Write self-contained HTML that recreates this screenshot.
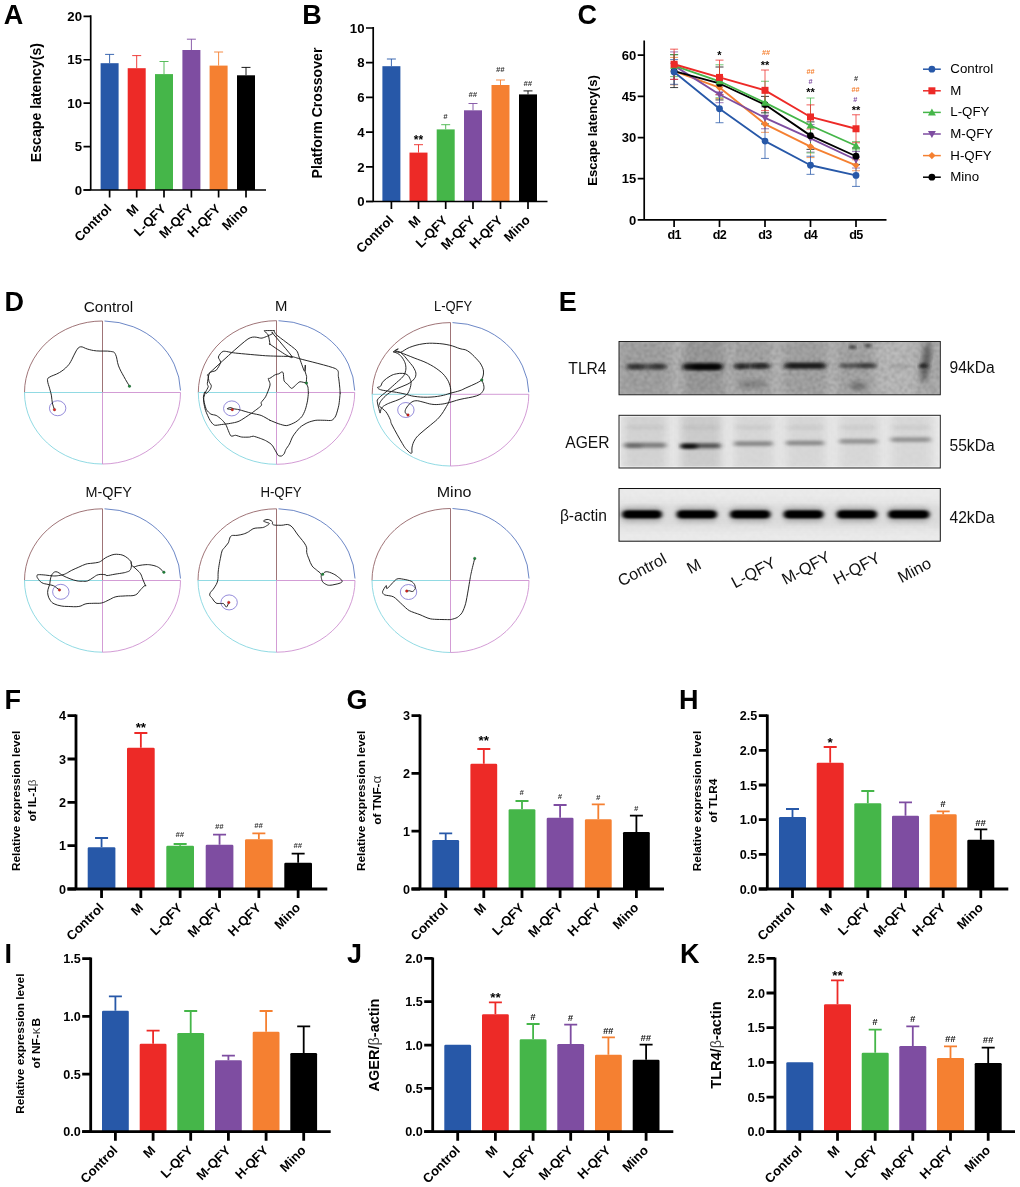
<!DOCTYPE html>
<html lang="en"><head><meta charset="utf-8"><title>Figure</title>
<style>
html,body{margin:0;padding:0;background:#fff;}
body{width:1020px;height:1187px;overflow:hidden;}
svg{display:block;font-family:"Liberation Sans",sans-serif;}
</style></head><body>
<svg width="1020" height="1187" viewBox="0 0 1020 1187">
<rect width="1020" height="1187" fill="#fff"/>
<text x="3.8" y="23.9" font-size="27" font-weight="bold">A</text>
<text x="302.3" y="23.9" font-size="27" font-weight="bold">B</text>
<text x="577.6" y="23.9" font-size="27" font-weight="bold">C</text>
<text x="4.5" y="310.7" font-size="27" font-weight="bold">D</text>
<text x="558.7" y="310.7" font-size="27" font-weight="bold">E</text>
<text x="4.6" y="708.9" font-size="27" font-weight="bold">F</text>
<text x="346.6" y="708.9" font-size="27" font-weight="bold">G</text>
<text x="679" y="708.9" font-size="27" font-weight="bold">H</text>
<text x="4.6" y="963" font-size="27" font-weight="bold">I</text>
<text x="347" y="963" font-size="27" font-weight="bold">J</text>
<text x="680" y="963" font-size="27" font-weight="bold">K</text>
<g>
<path d="M109.6 63.2V54.4M105.1 54.4H114.1" stroke="#2758A8" stroke-width="0.9" fill="none"/>
<rect x="100.6" y="63.2" width="18" height="126.8" fill="#2758A8"/>
<path d="M136.7 68.2V55.6M132.2 55.6H141.2" stroke="#ED2A27" stroke-width="0.9" fill="none"/>
<rect x="127.7" y="68.2" width="18" height="121.8" fill="#ED2A27"/>
<path d="M164 74.1V61.5M159.5 61.5H168.5" stroke="#45B649" stroke-width="0.9" fill="none"/>
<rect x="155" y="74.1" width="18" height="115.9" fill="#45B649"/>
<path d="M191.4 50V39.2M186.9 39.2H195.9" stroke="#7E4DA1" stroke-width="0.9" fill="none"/>
<rect x="182.4" y="50" width="18" height="140" fill="#7E4DA1"/>
<path d="M218.6 65.6V52M214.1 52H223.1" stroke="#F58031" stroke-width="0.9" fill="none"/>
<rect x="209.6" y="65.6" width="18" height="124.4" fill="#F58031"/>
<path d="M246 75.3V67.4M241.5 67.4H250.5" stroke="#000000" stroke-width="0.9" fill="none"/>
<rect x="237" y="75.3" width="18" height="114.7" fill="#000000"/>
<path d="M90.7 15.3V190M83.5 190H266" stroke="#000" stroke-width="1.7" fill="none" stroke-linecap="butt"/>
<path d="M83.5 190H90.7M83.5 146.57H90.7M83.5 103.15H90.7M83.5 59.73H90.7M83.5 16.3H90.7M109.6 190V197.5M136.7 190V197.5M164 190V197.5M191.4 190V197.5M218.6 190V197.5M246 190V197.5" stroke="#000" stroke-width="1.7" fill="none"/>
<text x="82" y="194.75" font-size="13.2" font-weight="bold" text-anchor="end">0</text>
<text x="82" y="151.33" font-size="13.2" font-weight="bold" text-anchor="end">5</text>
<text x="82" y="107.9" font-size="13.2" font-weight="bold" text-anchor="end">10</text>
<text x="82" y="64.48" font-size="13.2" font-weight="bold" text-anchor="end">15</text>
<text x="82" y="21.05" font-size="13.2" font-weight="bold" text-anchor="end">20</text>
<text transform="translate(112.4 209.5) rotate(-45)" font-size="13" font-weight="bold" text-anchor="end">Control</text>
<text transform="translate(139.5 209.5) rotate(-45)" font-size="13" font-weight="bold" text-anchor="end">M</text>
<text transform="translate(166.8 209.5) rotate(-45)" font-size="13" font-weight="bold" text-anchor="end">L-QFY</text>
<text transform="translate(194.2 209.5) rotate(-45)" font-size="13" font-weight="bold" text-anchor="end">M-QFY</text>
<text transform="translate(221.4 209.5) rotate(-45)" font-size="13" font-weight="bold" text-anchor="end">H-QFY</text>
<text transform="translate(248.8 209.5) rotate(-45)" font-size="13" font-weight="bold" text-anchor="end">Mino</text>
</g>
<text transform="translate(40.5 102.6) rotate(-90)" font-size="14.1" font-weight="bold" text-anchor="middle">Escape latency(s)</text>
<g>
<path d="M391.4 66.2V59M386.9 59H395.9" stroke="#2758A8" stroke-width="0.9" fill="none"/>
<rect x="382.4" y="66.2" width="18" height="135.3" fill="#2758A8"/>
<path d="M418.5 152.6V144.7M414 144.7H423" stroke="#ED2A27" stroke-width="0.9" fill="none"/>
<rect x="409.5" y="152.6" width="18" height="48.9" fill="#ED2A27"/>
<path d="M445.7 129.4V124.7M441.2 124.7H450.2" stroke="#45B649" stroke-width="0.9" fill="none"/>
<rect x="436.7" y="129.4" width="18" height="72.1" fill="#45B649"/>
<path d="M473 110.3V103.5M468.5 103.5H477.5" stroke="#7E4DA1" stroke-width="0.9" fill="none"/>
<rect x="464" y="110.3" width="18" height="91.2" fill="#7E4DA1"/>
<path d="M500.5 85V80M496 80H505" stroke="#F58031" stroke-width="0.9" fill="none"/>
<rect x="491.5" y="85" width="18" height="116.5" fill="#F58031"/>
<path d="M528 94.4V90.9M523.5 90.9H532.5" stroke="#000000" stroke-width="0.9" fill="none"/>
<rect x="519" y="94.4" width="18" height="107.1" fill="#000000"/>
<path d="M373.2 27V201.5M366 201.5H547.5" stroke="#000" stroke-width="1.7" fill="none" stroke-linecap="butt"/>
<path d="M366 201.5H373.2M366 166.8H373.2M366 132.1H373.2M366 97.4H373.2M366 62.7H373.2M366 28H373.2M391.4 201.5V209M418.5 201.5V209M445.7 201.5V209M473 201.5V209M500.5 201.5V209M528 201.5V209" stroke="#000" stroke-width="1.7" fill="none"/>
<text x="364.5" y="206.25" font-size="13.2" font-weight="bold" text-anchor="end">0</text>
<text x="364.5" y="171.55" font-size="13.2" font-weight="bold" text-anchor="end">2</text>
<text x="364.5" y="136.85" font-size="13.2" font-weight="bold" text-anchor="end">4</text>
<text x="364.5" y="102.15" font-size="13.2" font-weight="bold" text-anchor="end">6</text>
<text x="364.5" y="67.45" font-size="13.2" font-weight="bold" text-anchor="end">8</text>
<text x="364.5" y="32.75" font-size="13.2" font-weight="bold" text-anchor="end">10</text>
<text transform="translate(394.2 221) rotate(-45)" font-size="13" font-weight="bold" text-anchor="end">Control</text>
<text transform="translate(421.3 221) rotate(-45)" font-size="13" font-weight="bold" text-anchor="end">M</text>
<text transform="translate(448.5 221) rotate(-45)" font-size="13" font-weight="bold" text-anchor="end">L-QFY</text>
<text transform="translate(475.8 221) rotate(-45)" font-size="13" font-weight="bold" text-anchor="end">M-QFY</text>
<text transform="translate(503.3 221) rotate(-45)" font-size="13" font-weight="bold" text-anchor="end">H-QFY</text>
<text transform="translate(530.8 221) rotate(-45)" font-size="13" font-weight="bold" text-anchor="end">Mino</text>
<text x="418.5" y="143.6" font-size="12" font-weight="bold" text-anchor="middle">**</text>
<text x="445.4" y="119.38" font-size="7.6" font-weight="bold" font-style="italic" text-anchor="middle" fill="#333">#</text>
<text x="472.7" y="97.28" font-size="7.6" font-weight="bold" font-style="italic" text-anchor="middle" fill="#333">##</text>
<text x="500.2" y="72.28" font-size="7.6" font-weight="bold" font-style="italic" text-anchor="middle" fill="#333">##</text>
<text x="527.7" y="86.08" font-size="7.6" font-weight="bold" font-style="italic" text-anchor="middle" fill="#333">##</text>
</g>
<text transform="translate(322 113) rotate(-90)" font-size="14.1" font-weight="bold" text-anchor="middle">Platform Crossover</text>
<g>
<path d="M101.55 847.3V838M95.05 838H108.05" stroke="#2758A8" stroke-width="1.8" fill="none"/>
<path d="M87.7 889V848.6Q87.7 847.3 89 847.3H114.1Q115.4 847.3 115.4 848.6V889Z" fill="#2758A8"/>
<path d="M140.85 747.7V733M134.35 733H147.35" stroke="#ED2A27" stroke-width="1.8" fill="none"/>
<path d="M127 889V749Q127 747.7 128.3 747.7H153.4Q154.7 747.7 154.7 749V889Z" fill="#ED2A27"/>
<path d="M180.15 845.7V844M173.65 844H186.65" stroke="#45B649" stroke-width="1.8" fill="none"/>
<path d="M166.3 889V847Q166.3 845.7 167.6 845.7H192.7Q194 845.7 194 847V889Z" fill="#45B649"/>
<path d="M219.55 844.7V834.7M213.05 834.7H226.05" stroke="#7E4DA1" stroke-width="1.8" fill="none"/>
<path d="M205.7 889V846Q205.7 844.7 207 844.7H232.1Q233.4 844.7 233.4 846V889Z" fill="#7E4DA1"/>
<path d="M258.85 839.3V833.3M252.35 833.3H265.35" stroke="#F58031" stroke-width="1.8" fill="none"/>
<path d="M245 889V840.6Q245 839.3 246.3 839.3H271.4Q272.7 839.3 272.7 840.6V889Z" fill="#F58031"/>
<path d="M298.15 862.7V853.7M291.65 853.7H304.65" stroke="#000000" stroke-width="1.8" fill="none"/>
<path d="M284.3 889V864Q284.3 862.7 285.6 862.7H310.7Q312 862.7 312 864V889Z" fill="#000000"/>
<path d="M76 714.5V889M67.5 889H327.3" stroke="#000" stroke-width="2.8" fill="none" stroke-linecap="butt"/>
<path d="M67.5 889H76M67.5 845.67H76M67.5 802.34H76M67.5 759.01H76M67.5 715.68H76M101.55 889V898M140.85 889V898M180.15 889V898M219.55 889V898M258.85 889V898M298.15 889V898" stroke="#000" stroke-width="2.8" fill="none"/>
<text x="66" y="893.54" font-size="12.6" font-weight="bold" text-anchor="end">0</text>
<text x="66" y="850.21" font-size="12.6" font-weight="bold" text-anchor="end">1</text>
<text x="66" y="806.88" font-size="12.6" font-weight="bold" text-anchor="end">2</text>
<text x="66" y="763.55" font-size="12.6" font-weight="bold" text-anchor="end">3</text>
<text x="66" y="720.22" font-size="12.6" font-weight="bold" text-anchor="end">4</text>
<text transform="translate(104.55 908.5) rotate(-45)" font-size="13" font-weight="bold" text-anchor="end">Control</text>
<text transform="translate(143.85 908.5) rotate(-45)" font-size="13" font-weight="bold" text-anchor="end">M</text>
<text transform="translate(183.15 908.5) rotate(-45)" font-size="13" font-weight="bold" text-anchor="end">L-QFY</text>
<text transform="translate(222.55 908.5) rotate(-45)" font-size="13" font-weight="bold" text-anchor="end">M-QFY</text>
<text transform="translate(261.85 908.5) rotate(-45)" font-size="13" font-weight="bold" text-anchor="end">H-QFY</text>
<text transform="translate(301.15 908.5) rotate(-45)" font-size="13" font-weight="bold" text-anchor="end">Mino</text>
<text x="140.85" y="732.3" font-size="13.4" font-weight="bold" text-anchor="middle">**</text>
<text x="179.85" y="836.88" font-size="7.6" font-weight="bold" font-style="italic" text-anchor="middle" fill="#333">##</text>
<text x="219.25" y="829.28" font-size="7.6" font-weight="bold" font-style="italic" text-anchor="middle" fill="#333">##</text>
<text x="258.55" y="827.88" font-size="7.6" font-weight="bold" font-style="italic" text-anchor="middle" fill="#333">##</text>
<text x="297.85" y="847.88" font-size="7.6" font-weight="bold" font-style="italic" text-anchor="middle" fill="#333">##</text>
</g>
<text transform="translate(19.6 800.8) rotate(-90)" font-size="11.8" font-weight="bold" text-anchor="middle">Relative expression level</text>
<text transform="translate(36 800.5) rotate(-90)" font-size="11.8" font-weight="bold" text-anchor="middle">of IL-1<tspan font-weight="normal" fill="#444">β</tspan></text>
<g>
<path d="M445.7 840V833.3M439.2 833.3H452.2" stroke="#2758A8" stroke-width="1.8" fill="none"/>
<path d="M432.3 889V841.3Q432.3 840 433.6 840H457.8Q459.1 840 459.1 841.3V889Z" fill="#2758A8"/>
<path d="M483.8 763.7V749M477.3 749H490.3" stroke="#ED2A27" stroke-width="1.8" fill="none"/>
<path d="M470.4 889V765Q470.4 763.7 471.7 763.7H495.9Q497.2 763.7 497.2 765V889Z" fill="#ED2A27"/>
<path d="M522 809.3V801M515.5 801H528.5" stroke="#45B649" stroke-width="1.8" fill="none"/>
<path d="M508.6 889V810.6Q508.6 809.3 509.9 809.3H534.1Q535.4 809.3 535.4 810.6V889Z" fill="#45B649"/>
<path d="M560.1 817.7V805M553.6 805H566.6" stroke="#7E4DA1" stroke-width="1.8" fill="none"/>
<path d="M546.7 889V819Q546.7 817.7 548 817.7H572.2Q573.5 817.7 573.5 819V889Z" fill="#7E4DA1"/>
<path d="M598.3 819.3V804.3M591.8 804.3H604.8" stroke="#F58031" stroke-width="1.8" fill="none"/>
<path d="M584.9 889V820.6Q584.9 819.3 586.2 819.3H610.4Q611.7 819.3 611.7 820.6V889Z" fill="#F58031"/>
<path d="M636.4 832V815.7M629.9 815.7H642.9" stroke="#000000" stroke-width="1.8" fill="none"/>
<path d="M623 889V833.3Q623 832 624.3 832H648.5Q649.8 832 649.8 833.3V889Z" fill="#000000"/>
<path d="M420 714.5V889M411.5 889H664" stroke="#000" stroke-width="2.8" fill="none" stroke-linecap="butt"/>
<path d="M411.5 889H420M411.5 831.22H420M411.5 773.44H420M411.5 715.66H420M445.7 889V898M483.8 889V898M522 889V898M560.1 889V898M598.3 889V898M636.4 889V898" stroke="#000" stroke-width="2.8" fill="none"/>
<text x="410" y="893.54" font-size="12.6" font-weight="bold" text-anchor="end">0</text>
<text x="410" y="835.76" font-size="12.6" font-weight="bold" text-anchor="end">1</text>
<text x="410" y="777.98" font-size="12.6" font-weight="bold" text-anchor="end">2</text>
<text x="410" y="720.2" font-size="12.6" font-weight="bold" text-anchor="end">3</text>
<text transform="translate(448.7 908.5) rotate(-45)" font-size="13" font-weight="bold" text-anchor="end">Control</text>
<text transform="translate(486.8 908.5) rotate(-45)" font-size="13" font-weight="bold" text-anchor="end">M</text>
<text transform="translate(525 908.5) rotate(-45)" font-size="13" font-weight="bold" text-anchor="end">L-QFY</text>
<text transform="translate(563.1 908.5) rotate(-45)" font-size="13" font-weight="bold" text-anchor="end">M-QFY</text>
<text transform="translate(601.3 908.5) rotate(-45)" font-size="13" font-weight="bold" text-anchor="end">H-QFY</text>
<text transform="translate(639.4 908.5) rotate(-45)" font-size="13" font-weight="bold" text-anchor="end">Mino</text>
<text x="483.8" y="745" font-size="13.4" font-weight="bold" text-anchor="middle">**</text>
<text x="521.7" y="795.28" font-size="7.6" font-weight="bold" font-style="italic" text-anchor="middle" fill="#333">#</text>
<text x="559.8" y="798.58" font-size="7.6" font-weight="bold" font-style="italic" text-anchor="middle" fill="#333">#</text>
<text x="598" y="799.58" font-size="7.6" font-weight="bold" font-style="italic" text-anchor="middle" fill="#333">#</text>
<text x="636.1" y="810.88" font-size="7.6" font-weight="bold" font-style="italic" text-anchor="middle" fill="#333">#</text>
</g>
<text transform="translate(364.6 800.8) rotate(-90)" font-size="11.8" font-weight="bold" text-anchor="middle">Relative expression level</text>
<text transform="translate(381.3 800.2) rotate(-90)" font-size="11.8" font-weight="bold" text-anchor="middle">of TNF-<tspan font-weight="normal" fill="#444" font-size="13.5">α</tspan></text>
<g>
<path d="M792.5 817V809M786 809H799" stroke="#2758A8" stroke-width="1.8" fill="none"/>
<path d="M779 889V818.3Q779 817 780.3 817H804.7Q806 817 806 818.3V889Z" fill="#2758A8"/>
<path d="M830.2 762.7V747M823.7 747H836.7" stroke="#ED2A27" stroke-width="1.8" fill="none"/>
<path d="M816.7 889V764Q816.7 762.7 818 762.7H842.4Q843.7 762.7 843.7 764V889Z" fill="#ED2A27"/>
<path d="M867.8 803.3V791M861.3 791H874.3" stroke="#45B649" stroke-width="1.8" fill="none"/>
<path d="M854.3 889V804.6Q854.3 803.3 855.6 803.3H880Q881.3 803.3 881.3 804.6V889Z" fill="#45B649"/>
<path d="M905.5 815.7V802.3M899 802.3H912" stroke="#7E4DA1" stroke-width="1.8" fill="none"/>
<path d="M892 889V817Q892 815.7 893.3 815.7H917.7Q919 815.7 919 817V889Z" fill="#7E4DA1"/>
<path d="M943.2 814.3V811.3M936.7 811.3H949.7" stroke="#F58031" stroke-width="1.8" fill="none"/>
<path d="M929.7 889V815.6Q929.7 814.3 931 814.3H955.4Q956.7 814.3 956.7 815.6V889Z" fill="#F58031"/>
<path d="M980.8 839.7V829.3M974.3 829.3H987.3" stroke="#000000" stroke-width="1.8" fill="none"/>
<path d="M967.3 889V841Q967.3 839.7 968.6 839.7H993Q994.3 839.7 994.3 841V889Z" fill="#000000"/>
<path d="M767.3 714.5V889M758.8 889H1008.3" stroke="#000" stroke-width="2.8" fill="none" stroke-linecap="butt"/>
<path d="M758.8 889H767.3M758.8 854.33H767.3M758.8 819.66H767.3M758.8 784.99H767.3M758.8 750.32H767.3M758.8 715.65H767.3M792.5 889V898M830.2 889V898M867.8 889V898M905.5 889V898M943.2 889V898M980.8 889V898" stroke="#000" stroke-width="2.8" fill="none"/>
<text x="757.3" y="893.54" font-size="12.6" font-weight="bold" text-anchor="end">0.0</text>
<text x="757.3" y="858.87" font-size="12.6" font-weight="bold" text-anchor="end">0.5</text>
<text x="757.3" y="824.2" font-size="12.6" font-weight="bold" text-anchor="end">1.0</text>
<text x="757.3" y="789.53" font-size="12.6" font-weight="bold" text-anchor="end">1.5</text>
<text x="757.3" y="754.86" font-size="12.6" font-weight="bold" text-anchor="end">2.0</text>
<text x="757.3" y="720.19" font-size="12.6" font-weight="bold" text-anchor="end">2.5</text>
<text transform="translate(795.5 908.5) rotate(-45)" font-size="13" font-weight="bold" text-anchor="end">Control</text>
<text transform="translate(833.2 908.5) rotate(-45)" font-size="13" font-weight="bold" text-anchor="end">M</text>
<text transform="translate(870.8 908.5) rotate(-45)" font-size="13" font-weight="bold" text-anchor="end">L-QFY</text>
<text transform="translate(908.5 908.5) rotate(-45)" font-size="13" font-weight="bold" text-anchor="end">M-QFY</text>
<text transform="translate(946.2 908.5) rotate(-45)" font-size="13" font-weight="bold" text-anchor="end">H-QFY</text>
<text transform="translate(983.8 908.5) rotate(-45)" font-size="13" font-weight="bold" text-anchor="end">Mino</text>
<text x="830.2" y="747.3" font-size="13.4" font-weight="bold" text-anchor="middle">*</text>
<text x="942.9" y="806.5" font-size="9.4" font-weight="bold" font-style="italic" text-anchor="middle" fill="#111">#</text>
<text x="980.5" y="825.9" font-size="9.4" font-weight="bold" font-style="italic" text-anchor="middle" fill="#111">##</text>
</g>
<text transform="translate(701.3 801) rotate(-90)" font-size="11.8" font-weight="bold" text-anchor="middle">Relative expression level</text>
<text transform="translate(717.3 800.7) rotate(-90)" font-size="11.8" font-weight="bold" text-anchor="middle">of TLR4</text>
<g>
<path d="M115.4 1010.7V996.3M108.9 996.3H121.9" stroke="#2758A8" stroke-width="1.8" fill="none"/>
<path d="M102 1131.7V1012Q102 1010.7 103.3 1010.7H127.5Q128.8 1010.7 128.8 1012V1131.7Z" fill="#2758A8"/>
<path d="M153.1 1043.7V1030.7M146.6 1030.7H159.6" stroke="#ED2A27" stroke-width="1.8" fill="none"/>
<path d="M139.7 1131.7V1045Q139.7 1043.7 141 1043.7H165.2Q166.5 1043.7 166.5 1045V1131.7Z" fill="#ED2A27"/>
<path d="M190.7 1033V1011M184.2 1011H197.2" stroke="#45B649" stroke-width="1.8" fill="none"/>
<path d="M177.3 1131.7V1034.3Q177.3 1033 178.6 1033H202.8Q204.1 1033 204.1 1034.3V1131.7Z" fill="#45B649"/>
<path d="M228.4 1060.3V1055.7M221.9 1055.7H234.9" stroke="#7E4DA1" stroke-width="1.8" fill="none"/>
<path d="M215 1131.7V1061.6Q215 1060.3 216.3 1060.3H240.5Q241.8 1060.3 241.8 1061.6V1131.7Z" fill="#7E4DA1"/>
<path d="M266.1 1031.7V1011M259.6 1011H272.6" stroke="#F58031" stroke-width="1.8" fill="none"/>
<path d="M252.7 1131.7V1033Q252.7 1031.7 254 1031.7H278.2Q279.5 1031.7 279.5 1033V1131.7Z" fill="#F58031"/>
<path d="M303.7 1053V1026.3M297.2 1026.3H310.2" stroke="#000000" stroke-width="1.8" fill="none"/>
<path d="M290.3 1131.7V1054.3Q290.3 1053 291.6 1053H315.8Q317.1 1053 317.1 1054.3V1131.7Z" fill="#000000"/>
<path d="M90.7 957.5V1131.7M82.2 1131.7H330.7" stroke="#000" stroke-width="2.8" fill="none" stroke-linecap="butt"/>
<path d="M82.2 1131.7H90.7M82.2 1074.03H90.7M82.2 1016.36H90.7M82.2 958.69H90.7M115.4 1131.7V1140.7M153.1 1131.7V1140.7M190.7 1131.7V1140.7M228.4 1131.7V1140.7M266.1 1131.7V1140.7M303.7 1131.7V1140.7" stroke="#000" stroke-width="2.8" fill="none"/>
<text x="80.7" y="1136.24" font-size="12.6" font-weight="bold" text-anchor="end">0.0</text>
<text x="80.7" y="1078.57" font-size="12.6" font-weight="bold" text-anchor="end">0.5</text>
<text x="80.7" y="1020.9" font-size="12.6" font-weight="bold" text-anchor="end">1.0</text>
<text x="80.7" y="963.23" font-size="12.6" font-weight="bold" text-anchor="end">1.5</text>
<text transform="translate(118.4 1151.2) rotate(-45)" font-size="13" font-weight="bold" text-anchor="end">Control</text>
<text transform="translate(156.1 1151.2) rotate(-45)" font-size="13" font-weight="bold" text-anchor="end">M</text>
<text transform="translate(193.7 1151.2) rotate(-45)" font-size="13" font-weight="bold" text-anchor="end">L-QFY</text>
<text transform="translate(231.4 1151.2) rotate(-45)" font-size="13" font-weight="bold" text-anchor="end">M-QFY</text>
<text transform="translate(269.1 1151.2) rotate(-45)" font-size="13" font-weight="bold" text-anchor="end">H-QFY</text>
<text transform="translate(306.7 1151.2) rotate(-45)" font-size="13" font-weight="bold" text-anchor="end">Mino</text>
</g>
<text transform="translate(24.4 1043.7) rotate(-90)" font-size="11.8" font-weight="bold" text-anchor="middle">Relative expression level</text>
<text transform="translate(40.3 1043.2) rotate(-90)" font-size="11.8" font-weight="bold" text-anchor="middle">of NF-<tspan font-weight="normal" fill="#444" font-size="13">κ</tspan><tspan dx="1.3">B</tspan></text>
<g>
<path d="M444.3 1131.7V1046Q444.3 1044.7 445.6 1044.7H469.8Q471.1 1044.7 471.1 1046V1131.7Z" fill="#2758A8"/>
<path d="M495.4 1014.3V1002.3M488.9 1002.3H501.9" stroke="#ED2A27" stroke-width="1.8" fill="none"/>
<path d="M482 1131.7V1015.6Q482 1014.3 483.3 1014.3H507.5Q508.8 1014.3 508.8 1015.6V1131.7Z" fill="#ED2A27"/>
<path d="M533.1 1039.3V1024M526.6 1024H539.6" stroke="#45B649" stroke-width="1.8" fill="none"/>
<path d="M519.7 1131.7V1040.6Q519.7 1039.3 521 1039.3H545.2Q546.5 1039.3 546.5 1040.6V1131.7Z" fill="#45B649"/>
<path d="M570.7 1044V1024.7M564.2 1024.7H577.2" stroke="#7E4DA1" stroke-width="1.8" fill="none"/>
<path d="M557.3 1131.7V1045.3Q557.3 1044 558.6 1044H582.8Q584.1 1044 584.1 1045.3V1131.7Z" fill="#7E4DA1"/>
<path d="M608.4 1054.7V1037.3M601.9 1037.3H614.9" stroke="#F58031" stroke-width="1.8" fill="none"/>
<path d="M595 1131.7V1056Q595 1054.7 596.3 1054.7H620.5Q621.8 1054.7 621.8 1056V1131.7Z" fill="#F58031"/>
<path d="M646.1 1059.7V1044.7M639.6 1044.7H652.6" stroke="#000000" stroke-width="1.8" fill="none"/>
<path d="M632.7 1131.7V1061Q632.7 1059.7 634 1059.7H658.2Q659.5 1059.7 659.5 1061V1131.7Z" fill="#000000"/>
<path d="M432.7 957.5V1131.7M424.2 1131.7H673.3" stroke="#000" stroke-width="2.8" fill="none" stroke-linecap="butt"/>
<path d="M424.2 1131.7H432.7M424.2 1088.37H432.7M424.2 1045.04H432.7M424.2 1001.71H432.7M424.2 958.38H432.7M457.7 1131.7V1140.7M495.4 1131.7V1140.7M533.1 1131.7V1140.7M570.7 1131.7V1140.7M608.4 1131.7V1140.7M646.1 1131.7V1140.7" stroke="#000" stroke-width="2.8" fill="none"/>
<text x="422.7" y="1136.24" font-size="12.6" font-weight="bold" text-anchor="end">0.0</text>
<text x="422.7" y="1092.91" font-size="12.6" font-weight="bold" text-anchor="end">0.5</text>
<text x="422.7" y="1049.58" font-size="12.6" font-weight="bold" text-anchor="end">1.0</text>
<text x="422.7" y="1006.25" font-size="12.6" font-weight="bold" text-anchor="end">1.5</text>
<text x="422.7" y="962.92" font-size="12.6" font-weight="bold" text-anchor="end">2.0</text>
<text transform="translate(460.7 1151.2) rotate(-45)" font-size="13" font-weight="bold" text-anchor="end">Control</text>
<text transform="translate(498.4 1151.2) rotate(-45)" font-size="13" font-weight="bold" text-anchor="end">M</text>
<text transform="translate(536.1 1151.2) rotate(-45)" font-size="13" font-weight="bold" text-anchor="end">L-QFY</text>
<text transform="translate(573.7 1151.2) rotate(-45)" font-size="13" font-weight="bold" text-anchor="end">M-QFY</text>
<text transform="translate(611.4 1151.2) rotate(-45)" font-size="13" font-weight="bold" text-anchor="end">H-QFY</text>
<text transform="translate(649.1 1151.2) rotate(-45)" font-size="13" font-weight="bold" text-anchor="end">Mino</text>
<text x="495.4" y="1002.3" font-size="13.4" font-weight="bold" text-anchor="middle">**</text>
<text x="532.8" y="1019.9" font-size="9.4" font-weight="bold" font-style="italic" text-anchor="middle" fill="#111">#</text>
<text x="570.4" y="1020.9" font-size="9.4" font-weight="bold" font-style="italic" text-anchor="middle" fill="#111">#</text>
<text x="608.1" y="1033.5" font-size="9.4" font-weight="bold" font-style="italic" text-anchor="middle" fill="#111">##</text>
<text x="645.8" y="1040.9" font-size="9.4" font-weight="bold" font-style="italic" text-anchor="middle" fill="#111">##</text>
</g>
<text transform="translate(379.3 1045) rotate(-90)" font-size="14.5" font-weight="bold" text-anchor="middle">AGER/<tspan font-weight="normal" fill="#444">β</tspan>-actin</text>
<g>
<path d="M786.3 1131.7V1063.6Q786.3 1062.3 787.6 1062.3H812Q813.3 1062.3 813.3 1063.6V1131.7Z" fill="#2758A8"/>
<path d="M837.5 1004.3V980.3M831 980.3H844" stroke="#ED2A27" stroke-width="1.8" fill="none"/>
<path d="M824 1131.7V1005.6Q824 1004.3 825.3 1004.3H849.7Q851 1004.3 851 1005.6V1131.7Z" fill="#ED2A27"/>
<path d="M875.2 1052.7V1029.7M868.7 1029.7H881.7" stroke="#45B649" stroke-width="1.8" fill="none"/>
<path d="M861.7 1131.7V1054Q861.7 1052.7 863 1052.7H887.4Q888.7 1052.7 888.7 1054V1131.7Z" fill="#45B649"/>
<path d="M912.8 1046V1026.3M906.3 1026.3H919.3" stroke="#7E4DA1" stroke-width="1.8" fill="none"/>
<path d="M899.3 1131.7V1047.3Q899.3 1046 900.6 1046H925Q926.3 1046 926.3 1047.3V1131.7Z" fill="#7E4DA1"/>
<path d="M950.5 1058V1046.3M944 1046.3H957" stroke="#F58031" stroke-width="1.8" fill="none"/>
<path d="M937 1131.7V1059.3Q937 1058 938.3 1058H962.7Q964 1058 964 1059.3V1131.7Z" fill="#F58031"/>
<path d="M988.2 1063V1047.7M981.7 1047.7H994.7" stroke="#000000" stroke-width="1.8" fill="none"/>
<path d="M974.7 1131.7V1064.3Q974.7 1063 976 1063H1000.4Q1001.7 1063 1001.7 1064.3V1131.7Z" fill="#000000"/>
<path d="M775 957.5V1131.7M766.5 1131.7H1015" stroke="#000" stroke-width="2.8" fill="none" stroke-linecap="butt"/>
<path d="M766.5 1131.7H775M766.5 1097.03H775M766.5 1062.36H775M766.5 1027.69H775M766.5 993.02H775M766.5 958.35H775M799.8 1131.7V1140.7M837.5 1131.7V1140.7M875.2 1131.7V1140.7M912.8 1131.7V1140.7M950.5 1131.7V1140.7M988.2 1131.7V1140.7" stroke="#000" stroke-width="2.8" fill="none"/>
<text x="765" y="1136.24" font-size="12.6" font-weight="bold" text-anchor="end">0.0</text>
<text x="765" y="1101.57" font-size="12.6" font-weight="bold" text-anchor="end">0.5</text>
<text x="765" y="1066.9" font-size="12.6" font-weight="bold" text-anchor="end">1.0</text>
<text x="765" y="1032.23" font-size="12.6" font-weight="bold" text-anchor="end">1.5</text>
<text x="765" y="997.56" font-size="12.6" font-weight="bold" text-anchor="end">2.0</text>
<text x="765" y="962.89" font-size="12.6" font-weight="bold" text-anchor="end">2.5</text>
<text transform="translate(802.8 1151.2) rotate(-45)" font-size="13" font-weight="bold" text-anchor="end">Control</text>
<text transform="translate(840.5 1151.2) rotate(-45)" font-size="13" font-weight="bold" text-anchor="end">M</text>
<text transform="translate(878.2 1151.2) rotate(-45)" font-size="13" font-weight="bold" text-anchor="end">L-QFY</text>
<text transform="translate(915.8 1151.2) rotate(-45)" font-size="13" font-weight="bold" text-anchor="end">M-QFY</text>
<text transform="translate(953.5 1151.2) rotate(-45)" font-size="13" font-weight="bold" text-anchor="end">H-QFY</text>
<text transform="translate(991.2 1151.2) rotate(-45)" font-size="13" font-weight="bold" text-anchor="end">Mino</text>
<text x="837.5" y="980" font-size="13.4" font-weight="bold" text-anchor="middle">**</text>
<text x="874.9" y="1024.5" font-size="9.4" font-weight="bold" font-style="italic" text-anchor="middle" fill="#111">#</text>
<text x="912.5" y="1021.5" font-size="9.4" font-weight="bold" font-style="italic" text-anchor="middle" fill="#111">#</text>
<text x="950.2" y="1041.9" font-size="9.4" font-weight="bold" font-style="italic" text-anchor="middle" fill="#111">##</text>
<text x="987.9" y="1042.9" font-size="9.4" font-weight="bold" font-style="italic" text-anchor="middle" fill="#111">##</text>
</g>
<text transform="translate(721 1045) rotate(-90)" font-size="14.5" font-weight="bold" text-anchor="middle">TLR4/<tspan font-weight="normal" fill="#444">β</tspan>-actin</text>
<g>
<path d="M674.1 57.4V84.85M670.1 57.4H678.1M670.1 84.85H678.1M719.5 76.61V98.57M715.5 76.61H723.5M715.5 98.57H723.5M765 115.86V132.33M761 115.86H769M761 132.33H769M810.5 135.63V157.59M806.5 135.63H814.5M806.5 157.59H814.5M856 159.78V170.76M852 159.78H860M852 170.76H860" stroke="#F58031" stroke-width="0.9" fill="none" opacity="0.85"/>
<path d="M674.1 51.91V79.36M670.1 51.91H678.1M670.1 79.36H678.1M719.5 86.22V102.69M715.5 86.22H723.5M715.5 102.69H723.5M765 106.81V128.77M761 106.81H769M761 128.77H769M810.5 124.65V152.1M806.5 124.65H814.5M806.5 152.1H814.5M856 151.55V168.02M852 151.55H860M852 168.02H860" stroke="#7E4DA1" stroke-width="0.9" fill="none" opacity="0.85"/>
<path d="M674.1 54.65V87.59M670.1 54.65H678.1M670.1 87.59H678.1M719.5 67V99.94M715.5 67H723.5M715.5 99.94H723.5M765 96.38V112.84M761 96.38H769M761 112.84H769M810.5 121.9V149.35M806.5 121.9H814.5M806.5 149.35H814.5M856 147.98V164.45M852 147.98H860M852 164.45H860" stroke="#000000" stroke-width="0.9" fill="none" opacity="0.85"/>
<path d="M674.1 54.65V76.61M670.1 54.65H678.1M670.1 76.61H678.1M719.5 64.81V97.75M715.5 64.81H723.5M715.5 97.75H723.5M765 81.28V124.1M761 81.28H769M761 124.1H769M810.5 98.02V152.92M806.5 98.02H814.5M806.5 152.92H814.5M856 141.67V149.9M852 141.67H860M852 149.9H860" stroke="#45B649" stroke-width="0.9" fill="none" opacity="0.85"/>
<path d="M674.1 59.59V84.3M670.1 59.59H678.1M670.1 84.3H678.1M719.5 94.73V122.73M715.5 94.73H723.5M715.5 122.73H723.5M765 123.83V158.41M761 123.83H769M761 158.41H769M810.5 156.22V174.33M806.5 156.22H814.5M806.5 174.33H814.5M856 164.45V186.41M852 164.45H860M852 186.41H860" stroke="#2758A8" stroke-width="0.9" fill="none" opacity="0.85"/>
<path d="M674.1 49.16V79.36M670.1 49.16H678.1M670.1 79.36H678.1M719.5 60.14V94.73M715.5 60.14H723.5M715.5 94.73H723.5M765 70.02V110.65M761 70.02H769M761 110.65H769M810.5 104.88V129.04M806.5 104.88H814.5M806.5 129.04H814.5M856 114.77V142.77M852 114.77H860M852 142.77H860" stroke="#ED2A27" stroke-width="0.9" fill="none" opacity="0.85"/>
<polyline points="674.1,71.12 719.5,87.59 765,124.1 810.5,146.61 856,165.27" stroke="#F58031" stroke-width="1.85" fill="none" stroke-linejoin="round"/>
<path d="M674.1 67.52L677.7 71.12L674.1 74.72L670.5 71.12Z" fill="#F58031"/>
<path d="M719.5 83.99L723.1 87.59L719.5 91.19L715.9 87.59Z" fill="#F58031"/>
<path d="M765 120.5L768.6 124.1L765 127.7L761.4 124.1Z" fill="#F58031"/>
<path d="M810.5 143.01L814.1 146.61L810.5 150.21L806.9 146.61Z" fill="#F58031"/>
<path d="M856 161.67L859.6 165.27L856 168.87L852.4 165.27Z" fill="#F58031"/>
<polyline points="674.1,65.63 719.5,94.45 765,117.79 810.5,138.37 856,159.78" stroke="#7E4DA1" stroke-width="1.85" fill="none" stroke-linejoin="round"/>
<path d="M674.1 69.63L678.1 62.63H670.1Z" fill="#7E4DA1"/>
<path d="M719.5 98.45L723.5 91.45H715.5Z" fill="#7E4DA1"/>
<path d="M765 121.79L769 114.79H761Z" fill="#7E4DA1"/>
<path d="M810.5 142.37L814.5 135.37H806.5Z" fill="#7E4DA1"/>
<path d="M856 163.78L860 156.78H852Z" fill="#7E4DA1"/>
<polyline points="674.1,71.12 719.5,83.47 765,104.61 810.5,135.63 856,156.22" stroke="#000000" stroke-width="1.85" fill="none" stroke-linejoin="round"/>
<circle cx="674.1" cy="71.12" r="3.4" fill="#000000"/>
<circle cx="719.5" cy="83.47" r="3.4" fill="#000000"/>
<circle cx="765" cy="104.61" r="3.4" fill="#000000"/>
<circle cx="810.5" cy="135.63" r="3.4" fill="#000000"/>
<circle cx="856" cy="156.22" r="3.4" fill="#000000"/>
<polyline points="674.1,65.63 719.5,81.28 765,102.69 810.5,125.47 856,145.78" stroke="#45B649" stroke-width="1.85" fill="none" stroke-linejoin="round"/>
<path d="M674.1 61.63L678.1 68.63H670.1Z" fill="#45B649"/>
<path d="M719.5 77.28L723.5 84.28H715.5Z" fill="#45B649"/>
<path d="M765 98.69L769 105.69H761Z" fill="#45B649"/>
<path d="M810.5 121.47L814.5 128.47H806.5Z" fill="#45B649"/>
<path d="M856 141.78L860 148.78H852Z" fill="#45B649"/>
<polyline points="674.1,71.94 719.5,108.73 765,141.12 810.5,165.27 856,175.43" stroke="#2758A8" stroke-width="1.85" fill="none" stroke-linejoin="round"/>
<circle cx="674.1" cy="71.94" r="3.4" fill="#2758A8"/>
<circle cx="719.5" cy="108.73" r="3.4" fill="#2758A8"/>
<circle cx="765" cy="141.12" r="3.4" fill="#2758A8"/>
<circle cx="810.5" cy="165.27" r="3.4" fill="#2758A8"/>
<circle cx="856" cy="175.43" r="3.4" fill="#2758A8"/>
<polyline points="674.1,64.26 719.5,77.43 765,90.34 810.5,116.96 856,128.77" stroke="#ED2A27" stroke-width="1.85" fill="none" stroke-linejoin="round"/>
<rect x="670.6" y="60.76" width="7" height="7" fill="#ED2A27"/>
<rect x="716" y="73.93" width="7" height="7" fill="#ED2A27"/>
<rect x="761.5" y="86.84" width="7" height="7" fill="#ED2A27"/>
<rect x="807" y="113.46" width="7" height="7" fill="#ED2A27"/>
<rect x="852.5" y="125.27" width="7" height="7" fill="#ED2A27"/>
<path d="M644.2 40.5V219.9M637.7 219.9H886.5" stroke="#000" stroke-width="1.7" fill="none"/>
<path d="M637.7 178.72H644.2M637.7 137.55H644.2M637.7 96.38H644.2M637.7 55.2H644.2M674.1 219.9V226.9M719.5 219.9V226.9M765 219.9V226.9M810.5 219.9V226.9M856 219.9V226.9" stroke="#000" stroke-width="1.7" fill="none"/>
<text x="636.2" y="224.5" font-size="13" font-weight="bold" text-anchor="end">0</text>
<text x="636.2" y="183.32" font-size="13" font-weight="bold" text-anchor="end">15</text>
<text x="636.2" y="142.15" font-size="13" font-weight="bold" text-anchor="end">30</text>
<text x="636.2" y="100.97" font-size="13" font-weight="bold" text-anchor="end">45</text>
<text x="636.2" y="59.8" font-size="13" font-weight="bold" text-anchor="end">60</text>
<text x="674.1" y="239.3" font-size="12.6" font-weight="bold" text-anchor="middle" letter-spacing="-0.7">d1</text>
<text x="719.5" y="239.3" font-size="12.6" font-weight="bold" text-anchor="middle" letter-spacing="-0.7">d2</text>
<text x="765" y="239.3" font-size="12.6" font-weight="bold" text-anchor="middle" letter-spacing="-0.7">d3</text>
<text x="810.5" y="239.3" font-size="12.6" font-weight="bold" text-anchor="middle" letter-spacing="-0.7">d4</text>
<text x="856" y="239.3" font-size="12.6" font-weight="bold" text-anchor="middle" letter-spacing="-0.7">d5</text>
<text transform="translate(596.7 130.5) rotate(-90)" font-size="13.1" font-weight="bold" text-anchor="middle">Escape latency(s)</text>
<text x="719.4" y="58.8" font-size="11" font-weight="bold" text-anchor="middle" fill="#000">*</text>
<text x="766" y="55.1" font-size="7.3" font-weight="bold" text-anchor="middle" fill="#F58031">##</text>
<text x="765" y="69.2" font-size="11" font-weight="bold" text-anchor="middle" fill="#000">**</text>
<text x="810.5" y="74.4" font-size="7.3" font-weight="bold" text-anchor="middle" fill="#F58031">##</text>
<text x="810.5" y="84.2" font-size="7.3" font-weight="bold" text-anchor="middle" fill="#7E4DA1">#</text>
<text x="810.5" y="96.1" font-size="11" font-weight="bold" text-anchor="middle" fill="#000">**</text>
<text x="856" y="80.9" font-size="7.3" font-weight="bold" text-anchor="middle" fill="#333">#</text>
<text x="855.5" y="91.9" font-size="7.3" font-weight="bold" text-anchor="middle" fill="#F58031">##</text>
<text x="855.2" y="102.4" font-size="7.3" font-weight="bold" text-anchor="middle" fill="#7E4DA1">#</text>
<text x="856" y="113.7" font-size="11" font-weight="bold" text-anchor="middle" fill="#000">**</text>
<path d="M923 69.2H940.8" stroke="#2758A8" stroke-width="1.5"/>
<circle cx="931.9" cy="69.2" r="3.4" fill="#2758A8"/>
<text x="950.3" y="73.1" font-size="13.3">Control</text>
<path d="M923 90.8H940.8" stroke="#ED2A27" stroke-width="1.5"/>
<rect x="928.4" y="87.3" width="7" height="7" fill="#ED2A27"/>
<text x="950.3" y="94.7" font-size="13.3">M</text>
<path d="M923 112.4H940.8" stroke="#45B649" stroke-width="1.5"/>
<path d="M931.9 108.4L935.9 115.4H927.9Z" fill="#45B649"/>
<text x="950.3" y="116.3" font-size="13.3">L-QFY</text>
<path d="M923 134H940.8" stroke="#7E4DA1" stroke-width="1.5"/>
<path d="M931.9 138L935.9 131H927.9Z" fill="#7E4DA1"/>
<text x="950.3" y="137.9" font-size="13.3">M-QFY</text>
<path d="M923 155.6H940.8" stroke="#F58031" stroke-width="1.5"/>
<path d="M931.9 152L935.5 155.6L931.9 159.2L928.3 155.6Z" fill="#F58031"/>
<text x="950.3" y="159.5" font-size="13.3">H-QFY</text>
<path d="M923 177.2H940.8" stroke="#000000" stroke-width="1.5"/>
<circle cx="931.9" cy="177.2" r="3.4" fill="#000000"/>
<text x="950.3" y="181.1" font-size="13.3">Mino</text>
</g>
<g fill="none" stroke-width="0.85">
<path d="M24.5 392.5A78 71.5 0 0 1 102.5 321" stroke="#8E5B5E"/>
<path d="M104.5 321A78 71.5 0 0 1 180.5 390.5" stroke="#4668B8" stroke-width="0.8"/>
<path d="M180.5 392.5A78 71.5 0 0 1 102.5 464" stroke="#CB8ACD"/>
<path d="M102.5 464A78 71.5 0 0 1 24.5 392.5" stroke="#7DD3DE"/>
<path d="M102.5 321V392.5" stroke="#8E5B5E"/>
<path d="M102.5 392.5V464" stroke="#CB8ACD"/>
<path d="M24.5 392.5H102.5" stroke="#7DD3DE"/>
<path d="M102.5 392.5H180.5" stroke="#CB8ACD"/>
<ellipse cx="57.65" cy="408.24" rx="8.2" ry="7.5" stroke="#7A6FD0" stroke-width="0.8"/>
<path d="M129.47 386.18C128.34 384.24 126.01 380.53 123.82 376.47C121.64 372.41 120.19 370.29 118.53 365.88C116.87 361.47 117.12 357.31 115.53 354.41C113.94 351.52 114.4 352.12 110.59 351.41C106.78 350.71 101.06 351.34 96.47 350.88C91.88 350.42 90.82 349.93 87.65 349.12C84.47 348.31 82.88 346.47 80.59 346.82C78.29 347.18 77.94 348.31 76.18 350.88C74.41 353.46 73.53 356.64 71.76 359.71C70 362.78 69.82 363.66 67.35 366.24C64.88 368.81 63.05 370.36 59.41 372.59C55.78 374.81 51.54 375.69 49.18 377.35C46.81 379.01 47.48 378.59 47.59 380.88C47.69 383.18 48.93 385.82 49.71 388.82C50.48 391.82 50.94 393.06 51.47 395.88C52 398.71 51.75 400.19 52.35 402.94C52.95 405.69 54.05 408.31 54.47 409.65" stroke="#1c1c1c" stroke-width="0.95" stroke-linejoin="round"/>
<circle cx="54.47" cy="409.65" r="1.25" fill="#E0201C" stroke="#7a1a1a" stroke-width="0.4"/>
<circle cx="129.47" cy="386.18" r="1.25" fill="#1E8A3C" stroke="#134a22" stroke-width="0.4"/>
</g>
<text x="83.8" y="311.5" font-size="15.3" textLength="49.4" lengthAdjust="spacingAndGlyphs" fill="#111">Control</text>
<g fill="none" stroke-width="0.85">
<path d="M198.3 392.5A78.2 71.8 0 0 1 276.5 320.7" stroke="#8E5B5E"/>
<path d="M278.5 320.7A78.2 71.8 0 0 1 354.7 390.5" stroke="#4668B8" stroke-width="0.8"/>
<path d="M354.7 392.5A78.2 71.8 0 0 1 276.5 464.3" stroke="#CB8ACD"/>
<path d="M276.5 464.3A78.2 71.8 0 0 1 198.3 392.5" stroke="#7DD3DE"/>
<path d="M276.5 320.7V392.5" stroke="#8E5B5E"/>
<path d="M276.5 392.5V464.3" stroke="#CB8ACD"/>
<path d="M198.3 392.5H276.5" stroke="#7DD3DE"/>
<path d="M276.5 392.5H354.7" stroke="#CB8ACD"/>
<ellipse cx="231.76" cy="408.41" rx="8.2" ry="7.5" stroke="#7A6FD0" stroke-width="0.8"/>
<path d="M306.35 383.09C305.59 382.93 301.19 381.61 300 381.76C298.81 381.92 297.48 383.62 296.47 384.41C295.46 385.21 292.68 388.38 291.62 388.38C290.56 388.38 288.55 385.31 287.65 384.41C286.75 383.51 284.65 382.26 284.12 380.88C283.59 379.51 283.55 374 283.24 372.94C282.92 371.88 282 371.95 281.47 372.06C280.94 372.16 279.56 373.51 278.82 373.82C278.08 374.14 276.35 374.18 275.29 374.71C274.24 375.24 270.85 377.76 270 378.24C269.15 378.71 268.24 378.04 268.24 378.68C268.24 379.31 269.84 382.52 270 383.53C270.16 384.54 270.09 385.47 269.56 387.06C269.03 388.65 266.59 394.91 265.59 396.76C264.58 398.62 261.71 401.42 261.18 402.5C260.65 403.58 262.34 404.45 261.18 405.74C260.01 407.02 254.12 411.38 251.47 413.24C248.82 415.09 241.66 419.96 239.12 421.18C236.58 422.39 232.41 422.98 230.29 423.38C228.18 423.78 223.38 424.32 221.47 424.53C219.56 424.74 215.79 425.66 214.41 425.15C213.04 424.64 211.06 422.04 210 420.29C208.94 418.55 206.33 412.71 205.59 410.59C204.85 408.47 204.04 404.24 203.82 402.65C203.61 401.06 203.61 398.62 203.82 397.35C204.04 396.08 205.06 393.33 205.59 392.06C206.12 390.79 208.02 387.79 208.24 386.76C208.45 385.74 207.19 385.19 207.35 383.53C207.51 381.87 208.5 374.53 209.56 372.94C210.62 371.35 214.85 371.56 216.18 370.29C217.5 369.02 220.32 363.94 220.59 362.35C220.85 360.76 218.06 358.38 218.38 357.06C218.7 355.74 221.17 351.8 223.24 351.32C225.3 350.85 230.51 352.56 235.59 353.09C240.67 353.62 259.66 355.34 265.59 355.74C271.52 356.13 281.82 356.25 285 356.35C288.18 356.46 290.26 356.32 292.06 356.62C293.86 356.91 294.81 357.39 300 358.82C305.19 360.25 330.69 366.41 335.29 368.53C339.9 370.65 337.85 374.25 338.38 376.47C338.91 378.69 339.49 385.05 339.71 387.06C339.92 389.07 340.09 392.48 340.15 393.24C340.2 393.99 340.31 391.94 340.15 393.38C339.99 394.83 339.35 402.59 338.82 405.29C338.29 407.99 336.58 414.08 335.74 415.88C334.89 417.68 333.09 419.76 331.76 420.29C330.44 420.82 326.61 420.29 324.71 420.29C322.8 420.29 317.89 420.03 315.88 420.29C313.87 420.56 309.85 421.65 307.94 422.5C306.04 423.35 301.8 425.71 300 427.35C298.2 428.99 294.21 434.16 292.94 436.18C291.67 438.19 290.26 442.53 289.41 444.12C288.56 445.71 286.52 448.25 285.88 449.41C285.25 450.58 284.65 453.03 284.12 453.82C283.59 454.62 282.16 455.82 281.47 456.03C280.78 456.24 279.02 456.06 278.38 455.59C277.75 455.11 276.86 453.22 276.18 452.06C275.49 450.89 273.39 446.94 272.65 445.88C271.91 444.82 270.32 443.55 270 443.24C269.68 442.92 270.53 443.55 270 443.24C269.47 442.92 266.75 441.17 265.59 440.59C264.42 440.01 261.78 438.91 260.29 438.38C258.81 437.85 254.51 436.34 253.24 436.18C251.96 436.02 251.08 436.95 249.71 437.06C248.33 437.16 243.46 437.27 241.76 437.06C240.07 436.85 236.91 435.45 235.59 435.29C234.26 435.14 231.9 437.01 230.74 435.74C229.57 434.46 226.99 426.66 225.88 424.71C224.77 422.75 222.64 420.52 221.47 419.41C220.31 418.3 217.45 416.08 216.18 415.44C214.91 414.81 212.05 414.81 210.88 414.12C209.72 413.43 207.26 411.08 206.47 409.71C205.68 408.33 204.64 404.13 204.26 402.65C203.89 401.16 203.33 398.62 203.38 397.35C203.44 396.08 204.34 392.55 204.71 392.06C205.08 391.56 205.84 393.52 206.47 393.24C207.11 392.95 209.42 390.61 210 389.71C210.58 388.81 211.43 386.69 211.32 385.74C211.22 384.78 209.49 382.98 209.12 381.76C208.75 380.55 208.13 376.7 208.24 375.59C208.34 374.48 205.24 376.89 210 372.5C214.76 368.11 241.69 343.1 247.94 338.97C254.19 334.84 259.09 338.72 262.06 338.09C265.02 337.45 271.38 334.26 272.65 333.68C273.92 333.09 270.32 330.48 272.65 333.24C274.98 335.99 290.47 354.02 292.06 356.62C293.65 359.21 288.53 356.34 285.88 354.85C283.24 353.37 271.91 345.54 270 344.26C268.09 342.99 270.21 345.38 270 344.26C269.79 343.15 268.92 336.59 268.24 335C267.55 333.41 264.58 331.56 264.26 331.03C263.95 330.5 264.42 330.64 265.59 330.59C266.75 330.54 272.96 330.59 273.97 330.59C274.98 330.59 273.71 330.11 273.97 330.59C274.24 331.06 274.75 333.18 276.18 334.56C277.61 335.94 283.45 340.15 285.88 342.06C288.32 343.96 294.88 348.64 296.47 350.44C298.06 352.24 298.16 354.57 299.12 357.06C300.07 359.55 303.67 370.22 304.41 371.18C305.15 372.13 305.19 364.89 305.29 365C305.4 365.11 305.14 370.68 305.29 372.06C305.45 373.44 306.49 375.15 306.62 376.47C306.74 377.79 306.19 381.82 306.35 383.09C306.51 384.36 307.7 385.84 307.94 387.06C308.18 388.28 308.33 392.48 308.38 393.24C308.44 393.99 308.49 392.46 308.38 393.38C308.28 394.3 307.87 398.92 307.5 400.88C307.13 402.84 305.98 407.8 305.29 409.71C304.61 411.61 302.93 415.28 301.76 416.76C300.6 418.25 297.39 421 295.59 422.06C293.79 423.12 288.78 425.38 286.76 425.59C284.75 425.8 280.84 424.46 278.82 423.82C276.81 423.19 271.06 420.72 270 420.29C268.94 419.87 271.06 420.88 270 420.29C268.94 419.71 263.4 416.29 261.18 415.44C258.95 414.59 254.12 413.92 251.47 413.24C248.82 412.55 241.24 410.24 239.12 409.71C237 409.18 234.88 409.09 233.82 408.82C232.76 408.56 231.09 407.5 230.29 407.5C229.5 407.5 226.94 408.58 227.21 408.82C227.47 409.07 231.86 409.44 232.5 409.53" stroke="#1c1c1c" stroke-width="0.95" stroke-linejoin="round"/>
<circle cx="232.29" cy="409.65" r="1.25" fill="#E0201C" stroke="#7a1a1a" stroke-width="0.4"/>
<circle cx="306.41" cy="383" r="1.25" fill="#1E8A3C" stroke="#134a22" stroke-width="0.4"/>
</g>
<text x="275" y="311.2" font-size="15.3" textLength="12.4" lengthAdjust="spacingAndGlyphs" fill="#111">M</text>
<g fill="none" stroke-width="0.85">
<path d="M372.2 394.3A78.3 71.7 0 0 1 450.5 322.6" stroke="#8E5B5E"/>
<path d="M452.5 322.6A78.3 71.7 0 0 1 528.8 392.3" stroke="#4668B8" stroke-width="0.8"/>
<path d="M528.8 394.3A78.3 71.7 0 0 1 450.5 466" stroke="#CB8ACD"/>
<path d="M450.5 466A78.3 71.7 0 0 1 372.2 394.3" stroke="#7DD3DE"/>
<path d="M450.5 322.6V394.3" stroke="#8E5B5E"/>
<path d="M450.5 394.3V466" stroke="#CB8ACD"/>
<path d="M372.2 394.3H450.5" stroke="#7DD3DE"/>
<path d="M450.5 394.3H528.8" stroke="#CB8ACD"/>
<ellipse cx="405.88" cy="410" rx="8.2" ry="7.5" stroke="#7A6FD0" stroke-width="0.8"/>
<path d="M481.76 380C482.12 378.59 483.53 375.76 483.53 372.94C483.53 370.12 483.18 368.71 481.76 365.88C480.35 363.06 479.29 361.82 476.47 358.82C473.65 355.82 470.94 352.91 467.65 350.88C464.35 348.85 463.65 349.82 460 348.68C456.35 347.53 454.18 346.21 449.41 345.15C444.65 344.09 441.47 343.65 436.18 343.38C430.88 343.12 428.24 343.03 422.94 343.82C417.65 344.62 414.12 345.68 409.71 347.35C405.29 349.03 403.53 351.32 400.88 352.21C398.24 353.09 397.97 351.85 396.47 351.76C394.97 351.68 393.03 352.33 393.38 351.76C393.74 351.2 397.88 349.12 398.24 348.94C398.59 348.76 394.62 350.14 395.15 350.88C395.68 351.62 398.15 350.53 400.88 352.65C403.62 354.76 406.18 358.29 408.82 361.47C411.47 364.65 412.71 365.88 414.12 368.53C415.53 371.18 416.06 372.41 415.88 374.71C415.71 377 415 378.06 413.24 380C411.47 381.94 410.41 382.65 407.06 384.41C403.71 386.18 400.35 386.88 396.47 388.82C392.59 390.76 390.65 391.82 387.65 394.12C384.65 396.41 383.15 398.18 381.47 400.29C379.79 402.41 379.62 403.47 379.26 404.71C378.91 405.94 378.38 405.06 379.71 406.47C381.03 407.88 383.76 409.12 385.88 411.76C388 414.41 389.06 417.06 390.29 419.71C391.53 422.35 389.65 420.24 392.06 425C394.47 429.76 399.41 438.59 402.35 443.53C405.29 448.47 404.93 447.76 406.76 449.71C408.6 451.65 410.47 453.76 411.53 453.24C412.59 452.71 411.42 449.71 412.06 447.06C412.69 444.41 413.12 442.65 414.71 440C416.29 437.35 416.82 436.82 420 433.82C423.18 430.82 426.71 428.35 430.59 425C434.47 421.65 436.24 420.76 439.41 417.06C442.59 413.35 444.47 409.82 446.47 406.47C448.47 403.12 448.56 402.94 449.41 400.29C450.26 397.65 450.65 396.24 450.74 393.24C450.82 390.24 450.82 388.47 449.85 385.29C448.88 382.12 448.09 380.35 445.88 377.35C443.68 374.35 442.53 373.12 438.82 370.29C435.12 367.47 432.29 365.71 427.35 363.24C422.41 360.76 419.41 360.06 414.12 357.94C408.82 355.82 403.53 353.71 400.88 352.65" stroke="#1c1c1c" stroke-width="0.95" stroke-linejoin="round"/>
<path d="M481.76 380C480.71 380.64 479.65 381.59 476.47 383.18C473.29 384.76 469.18 386.46 465.88 387.94C462.59 389.42 463.12 389.53 460 390.59C456.88 391.65 454.18 392.18 450.29 393.24C446.41 394.29 445.18 395.09 440.59 395.88C436 396.68 432.65 397.12 427.35 397.21C422.06 397.29 418.53 396.94 414.12 396.32C409.71 395.71 408.82 394.91 405.29 394.12C401.76 393.32 400 392.97 396.47 392.35C392.94 391.74 390.82 391.56 387.65 391.03C384.47 390.5 382.62 390.41 380.59 389.71C378.56 389 377.5 388.21 377.5 387.5C377.5 386.79 379.44 387.41 380.59 386.18C381.74 384.94 381.29 383.35 383.24 381.32C385.18 379.29 387.65 377.53 390.29 376.03C392.94 374.53 394 374.35 396.47 373.82C398.94 373.29 400.53 373.21 402.65 373.38C404.76 373.56 405.65 373.74 407.06 374.71C408.47 375.68 408.91 376.47 409.71 378.24C410.5 380 411.21 380.88 411.03 383.53C410.85 386.18 409.97 389 408.82 391.47C407.68 393.94 407.24 394.29 405.29 395.88C403.35 397.47 401.76 398.18 399.12 399.41C396.47 400.65 394.71 401 392.06 402.06C389.41 403.12 388 403.47 385.88 404.71C383.76 405.94 382.62 406.56 381.47 408.24C380.32 409.91 380.68 413.09 380.15 413.09C379.62 413.09 379.35 410.26 378.82 408.24C378.29 406.21 377.59 404.88 377.5 402.94C377.41 401 376.35 401 378.38 398.53C380.41 396.06 384.03 393.76 387.65 390.59C391.26 387.41 393.47 385.38 396.47 382.65C399.47 379.91 400.88 379.03 402.65 376.91C404.41 374.79 404.68 374.26 405.29 372.06C405.91 369.85 406.09 368.35 405.74 365.88C405.38 363.41 404.85 362 403.53 359.71C402.21 357.41 401.15 356 399.12 354.41C397.09 352.82 394.53 352.29 393.38 351.76" stroke="#1c1c1c" stroke-width="0.95" stroke-linejoin="round"/>
<path d="M481.76 380C482.19 381.24 483.71 383.88 483.88 386.18C484.06 388.47 484.13 389.53 482.65 391.47C481.16 393.41 481 394.29 476.47 395.88C471.94 397.47 465.41 398.09 460 399.41C454.59 400.74 453.29 401.53 449.41 402.5C445.53 403.47 444.12 403.91 440.59 404.26C437.06 404.62 435.29 404.71 431.76 404.26C428.24 403.82 426.12 402.76 422.94 402.06C419.76 401.35 418.35 400.56 415.88 400.74C413.41 400.91 412.53 401.44 410.59 402.94C408.65 404.44 407.24 406.29 406.18 408.24C405.12 410.18 404.94 411.32 405.29 412.65C405.65 413.97 407.41 414.41 407.94 414.85" stroke="#1c1c1c" stroke-width="0.95" stroke-linejoin="round"/>
<circle cx="408" cy="414.94" r="1.25" fill="#E0201C" stroke="#7a1a1a" stroke-width="0.4"/>
<circle cx="481.76" cy="380" r="1.25" fill="#1E8A3C" stroke="#134a22" stroke-width="0.4"/>
</g>
<text x="433.95" y="311.2" font-size="15.3" textLength="38.3" lengthAdjust="spacingAndGlyphs" fill="#111">L-QFY</text>
<g fill="none" stroke-width="0.85">
<path d="M24.5 580.5A78 71.7 0 0 1 102.5 508.8" stroke="#8E5B5E"/>
<path d="M104.5 508.8A78 71.7 0 0 1 180.5 578.5" stroke="#4668B8" stroke-width="0.8"/>
<path d="M180.5 580.5A78 71.7 0 0 1 102.5 652.2" stroke="#CB8ACD"/>
<path d="M102.5 652.2A78 71.7 0 0 1 24.5 580.5" stroke="#7DD3DE"/>
<path d="M102.5 508.8V580.5" stroke="#8E5B5E"/>
<path d="M102.5 580.5V652.2" stroke="#CB8ACD"/>
<path d="M24.5 580.5H102.5" stroke="#7DD3DE"/>
<path d="M102.5 580.5H180.5" stroke="#CB8ACD"/>
<ellipse cx="60.82" cy="591.82" rx="8.2" ry="7.5" stroke="#7A6FD0" stroke-width="0.8"/>
<path d="M163.88 572.24C163.11 571.49 161.48 569.69 160 568.53C158.52 567.36 158.24 567.12 156.47 566.41C154.71 565.71 153.29 565.35 151.18 565C149.06 564.65 148.35 564.54 145.88 564.65C143.41 564.75 141.29 565.11 138.82 565.53C136.35 565.95 135.01 567.05 133.53 566.76C132.05 566.48 131.94 565.18 131.41 564.12C130.88 563.06 131.69 562.71 130.88 561.47C130.07 560.24 128.94 559.18 127.35 557.94C125.76 556.71 124.71 556 122.94 555.29C121.18 554.59 120.29 554.59 118.53 554.41C116.76 554.24 115.88 554.13 114.12 554.41C112.35 554.69 111.47 555.12 109.71 555.82C107.94 556.53 106.88 556.99 105.29 557.94C103.71 558.89 103.18 559.71 101.76 560.59C100.35 561.47 100.18 561.82 98.24 562.35C96.29 562.88 94.53 562.88 92.06 563.24C89.59 563.59 88.53 563.34 85.88 564.12C83.24 564.89 81.65 565.88 78.82 567.12C76 568.35 74.24 569.06 71.76 570.29C69.29 571.53 68.24 572.41 66.47 573.29C64.71 574.18 64.53 574.25 62.94 574.71C61.35 575.16 60.47 575.34 58.53 575.59C56.59 575.84 55.88 576.05 53.24 575.94C50.59 575.84 48.29 575.31 45.29 575.06C42.29 574.81 39.89 574.53 38.24 574.71C36.58 574.88 37.11 575.24 37 575.94C36.89 576.65 36.75 576.89 37.71 578.24C38.66 579.58 39.72 581.41 41.76 582.65C43.81 583.88 45.65 583.81 47.94 584.41C50.24 585.01 51.47 584.94 53.24 585.65C55 586.35 55.53 587.09 56.76 587.94C58 588.79 58.88 589.49 59.41 589.88" stroke="#1c1c1c" stroke-width="0.95" stroke-linejoin="round"/>
<path d="M130.88 561.47C130.99 562.35 131.59 564.12 131.41 565.88C131.24 567.65 130.99 569.06 130 570.29C129.01 571.53 127.88 571.53 126.47 572.06C125.06 572.59 125.24 572.52 122.94 572.94C120.65 573.36 118.18 573.65 115 574.18C111.82 574.71 109 575.48 107.06 575.59C105.12 575.69 107.06 574.88 105.29 574.71C103.53 574.53 100.71 574.11 98.24 574.71C95.76 575.31 95.06 576.47 92.94 577.71C90.82 578.94 89.76 580.18 87.65 580.88C85.53 581.59 84.47 581.24 82.35 581.24C80.24 581.24 79.53 581.38 77.06 580.88C74.59 580.39 72.82 579.82 70 578.76C67.18 577.71 65.13 576.75 62.94 575.59C60.75 574.42 60.47 573.72 59.06 572.94C57.65 572.16 57.05 571.71 55.88 571.71C54.72 571.71 54.12 572.16 53.24 572.94C52.35 573.72 52.07 574.18 51.47 575.59C50.87 577 50.59 578.24 50.24 580C49.88 581.76 50.16 582.47 49.71 584.41C49.25 586.35 48.29 587.59 47.94 589.71C47.59 591.82 47.48 592.88 47.94 595C48.4 597.12 49 598.53 50.24 600.29C51.47 602.06 51.93 602.69 54.12 603.82C56.31 604.95 58.35 605.41 61.18 605.94C64 606.47 64.71 606.36 68.24 606.47C71.76 606.58 75.29 607 78.82 606.47C82.35 605.94 82.88 604.46 85.88 603.82C88.88 603.19 90.65 603.47 93.82 603.29C97 603.12 98.76 603.61 101.76 602.94C104.76 602.27 106 601.18 108.82 599.94C111.65 598.71 112.53 597.58 115.88 596.76C119.24 595.95 121.71 596.24 125.59 595.88C129.47 595.53 132.29 596.24 135.29 595C138.29 593.76 138.65 591.65 140.59 589.71C142.53 587.76 144.01 586.07 145 585.29C145.99 584.52 145.99 587.06 145.53 585.82C145.07 584.59 143.69 581.52 142.71 579.12C141.72 576.72 141.72 575.66 140.59 573.82C139.46 571.99 138.47 571.35 137.06 569.94C135.65 568.53 134.24 567.4 133.53 566.76" stroke="#1c1c1c" stroke-width="0.95" stroke-linejoin="round"/>
<circle cx="59.41" cy="589.88" r="1.25" fill="#E0201C" stroke="#7a1a1a" stroke-width="0.4"/>
<circle cx="163.88" cy="572.24" r="1.25" fill="#1E8A3C" stroke="#134a22" stroke-width="0.4"/>
</g>
<text x="85.4" y="496.6" font-size="15.3" textLength="46.4" lengthAdjust="spacingAndGlyphs" fill="#111">M-QFY</text>
<g fill="none" stroke-width="0.85">
<path d="M198 580.5A78.5 71.7 0 0 1 276.5 508.8" stroke="#8E5B5E"/>
<path d="M278.5 508.8A78.5 71.7 0 0 1 355 578.5" stroke="#4668B8" stroke-width="0.8"/>
<path d="M355 580.5A78.5 71.7 0 0 1 276.5 652.2" stroke="#CB8ACD"/>
<path d="M276.5 652.2A78.5 71.7 0 0 1 198 580.5" stroke="#7DD3DE"/>
<path d="M276.5 508.8V580.5" stroke="#8E5B5E"/>
<path d="M276.5 580.5V652.2" stroke="#CB8ACD"/>
<path d="M198 580.5H276.5" stroke="#7DD3DE"/>
<path d="M276.5 580.5H355" stroke="#CB8ACD"/>
<ellipse cx="229.12" cy="602.41" rx="8.2" ry="7.5" stroke="#7A6FD0" stroke-width="0.8"/>
<path d="M322.65 574.35C323.35 573.82 324.06 571.81 326.18 571.71C328.29 571.6 330.76 572.69 333.24 573.82C335.71 574.95 336.76 575.94 338.53 577.35C340.29 578.76 341.71 579.75 342.06 580.88C342.41 582.01 341.71 582.29 340.29 583C338.88 583.71 337.12 583.95 335 584.41C332.88 584.87 331.47 585.29 329.71 585.29C327.94 585.29 327.59 585.12 326.18 584.41C324.76 583.71 323.64 583.18 322.65 581.76C321.66 580.35 321.59 578.94 321.24 577.35C320.88 575.76 321.84 575.31 320.88 573.82C319.93 572.34 318.24 571.53 316.47 569.94C314.71 568.35 313.58 568.11 312.06 565.88C310.54 563.66 309.94 561.47 308.88 558.82C307.82 556.18 307.36 555.29 306.76 552.65C306.16 550 307.65 549.12 305.88 545.59C304.12 542.06 301.12 539.06 297.94 535C294.76 530.94 293.35 527.24 290 525.29C286.65 523.35 284.53 525.4 281.18 525.29C277.82 525.19 275 525.47 273.24 524.76C271.47 524.06 273.06 522.72 272.35 521.76C271.65 520.81 270.76 520.46 269.71 520C268.65 519.54 268.29 519.29 267.06 519.47C265.82 519.65 263.71 520.32 263.53 520.88C263.35 521.45 265.01 521.76 266.18 522.29C267.34 522.82 269.28 522.82 269.35 523.53C269.42 524.24 267.87 525.01 266.53 525.82C265.19 526.64 264.48 527.16 262.65 527.59C260.81 528.01 259.29 527.69 257.35 527.94C255.41 528.19 254.71 528.05 252.94 528.82C251.18 529.6 250.47 530.76 248.53 531.82C246.59 532.88 245.53 533.41 243.24 534.12C240.94 534.82 239.46 535 237.06 535.35C234.66 535.71 232.82 534.89 231.24 535.88C229.65 536.87 229.72 538.88 229.12 540.29C228.52 541.71 229.12 541.53 228.24 542.94C227.35 544.35 225.94 545.76 224.71 547.35C223.47 548.94 222.87 548.94 222.06 550.88C221.25 552.82 221.18 554.59 220.65 557.06C220.12 559.53 219.91 560.24 219.41 563.24C218.92 566.24 218.53 568.53 218.18 572.06C217.82 575.59 218.46 577.71 217.65 580.88C216.84 584.06 215.71 585.29 214.12 587.94C212.53 590.59 210.06 592 209.71 594.12C209.35 596.24 211.12 596.76 212.35 598.53C213.59 600.29 214.29 601.95 215.88 602.94C217.47 603.93 218.71 603.29 220.29 603.47C221.88 603.65 222.59 603.12 223.82 603.82C225.06 604.53 225.48 607.28 226.47 607C227.46 606.72 228.31 603.33 228.76 602.41" stroke="#1c1c1c" stroke-width="0.95" stroke-linejoin="round"/>
<circle cx="228.76" cy="602.41" r="1.25" fill="#E0201C" stroke="#7a1a1a" stroke-width="0.4"/>
<circle cx="322.65" cy="574.35" r="1.25" fill="#1E8A3C" stroke="#134a22" stroke-width="0.4"/>
</g>
<text x="260.4" y="496.6" font-size="15.3" textLength="41.2" lengthAdjust="spacingAndGlyphs" fill="#111">H-QFY</text>
<g fill="none" stroke-width="0.85">
<path d="M372 580.5A78.5 72 0 0 1 450.5 508.5" stroke="#8E5B5E"/>
<path d="M452.5 508.5A78.5 72 0 0 1 529 578.5" stroke="#4668B8" stroke-width="0.8"/>
<path d="M529 580.5A78.5 72 0 0 1 450.5 652.5" stroke="#CB8ACD"/>
<path d="M450.5 652.5A78.5 72 0 0 1 372 580.5" stroke="#7DD3DE"/>
<path d="M450.5 508.5V580.5" stroke="#8E5B5E"/>
<path d="M450.5 580.5V652.5" stroke="#CB8ACD"/>
<path d="M372 580.5H450.5" stroke="#7DD3DE"/>
<path d="M450.5 580.5H529" stroke="#CB8ACD"/>
<ellipse cx="408.53" cy="592" rx="8.2" ry="7.5" stroke="#7A6FD0" stroke-width="0.8"/>
<path d="M474.71 558.47C474.41 559.66 472.92 565.54 472.41 567.65C471.91 569.76 471.14 573.2 470.82 574.71C470.51 576.21 470.36 577.1 470 579.22C469.64 581.33 468.61 587.79 468.04 590.98C467.47 594.17 466.35 600.92 465.59 603.73C464.82 606.53 463.24 610.76 462.16 612.55C461.07 614.33 458.66 616.56 457.25 617.45C455.85 618.34 452.65 619.13 451.37 619.41C450.1 619.69 450.13 619.67 447.45 619.61C444.77 619.54 434.35 619.56 430.78 618.92C427.22 618.28 422.8 615.79 420 614.71C417.2 613.62 411.51 611.89 409.22 610.59C406.92 609.29 404.39 606.49 402.35 604.71C400.31 602.92 395.82 598.14 393.53 596.86C391.24 595.59 386.13 595.56 384.71 594.9C383.28 594.24 382.36 592.98 382.55 591.76C382.74 590.55 385.58 586.01 386.18 585.59C386.78 585.17 385.82 589.36 387.16 588.53C388.5 587.7 394.37 580.43 396.47 579.22C398.57 578 401.42 578.96 403.33 579.22C405.25 579.47 409.71 580.48 411.18 581.18C412.64 581.88 414.07 583.65 414.61 584.61C415.14 585.56 415.55 587.64 415.29 588.53C415.04 589.42 413.44 591.18 412.65 591.47C411.86 591.76 409.98 590.82 409.22 590.78C408.45 590.75 407.08 591.13 406.76 591.18" stroke="#1c1c1c" stroke-width="0.95" stroke-linejoin="round"/>
<circle cx="406.76" cy="591.12" r="1.25" fill="#E0201C" stroke="#7a1a1a" stroke-width="0.4"/>
<circle cx="474.71" cy="558.47" r="1.25" fill="#1E8A3C" stroke="#134a22" stroke-width="0.4"/>
</g>
<text x="436.7" y="496.6" font-size="15.3" textLength="34.8" lengthAdjust="spacingAndGlyphs" fill="#111">Mino</text>
<defs>
<filter id="b1" x="-20%" y="-100%" width="140%" height="300%"><feGaussianBlur stdDeviation="2.2 1.3"/></filter>
<filter id="b2" x="-20%" y="-100%" width="140%" height="300%"><feGaussianBlur stdDeviation="2.5 1.6"/></filter>
<filter id="b3" x="-30%" y="-30%" width="160%" height="160%"><feGaussianBlur stdDeviation="5 4"/></filter>
<filter id="b4" x="-30%" y="-30%" width="160%" height="160%"><feGaussianBlur stdDeviation="2.5"/></filter>
<filter id="noise" x="0" y="0" width="100%" height="100%">
<feTurbulence type="fractalNoise" baseFrequency="0.38" numOctaves="2" seed="7" result="n"/>
<feColorMatrix in="n" type="matrix" values="0 0 0 0 0  0 0 0 0 0  0 0 0 0 0  1.2 0 0 0 -0.42"/>
<feGaussianBlur stdDeviation="0.9"/>
</filter>
<clipPath id="cp1"><rect x="619" y="341.5" width="321.3" height="53.3"/></clipPath>
<clipPath id="cp2"><rect x="619" y="415.3" width="321.3" height="52.7"/></clipPath>
<clipPath id="cp3"><rect x="619" y="488.5" width="321.3" height="52.7"/></clipPath>
</defs>
<g clip-path="url(#cp1)">
<rect x="619" y="341.5" width="321.29999999999995" height="53.3" fill="#C2C2C2"/>
<rect x="619" y="338" width="53" height="60" fill="#9a9a9a" opacity="0.55" filter="url(#b3)"/>
<rect x="683" y="338" width="42" height="60" fill="#8e8e8e" opacity="0.6" filter="url(#b3)"/>
<rect x="733" y="338" width="39" height="60" fill="#9a9a9a" opacity="0.5" filter="url(#b3)"/>
<rect x="783" y="338" width="44" height="60" fill="#959595" opacity="0.5" filter="url(#b3)"/>
<rect x="838" y="338" width="36" height="60" fill="#9a9a9a" opacity="0.5" filter="url(#b3)"/>
<rect x="880" y="338" width="32" height="60" fill="#c4c4c4" opacity="0.75" filter="url(#b3)"/>
<rect x="918" y="338" width="22" height="60" fill="#9a9a9a" opacity="0.4" filter="url(#b3)"/>
<rect x="626.67" y="363.83" width="39.33" height="5.67" rx="2.83" fill="#333" opacity="0.7" filter="url(#b2)"/>
<rect x="628.33" y="364.5" width="15" height="4.33" rx="2.17" fill="#222" opacity="0.6" filter="url(#b2)"/>
<rect x="651.67" y="364.17" width="13.33" height="4.33" rx="2.17" fill="#222" opacity="0.6" filter="url(#b2)"/>
<rect x="682.67" y="363.33" width="40" height="6.67" rx="3.33" fill="#111" opacity="0.95" filter="url(#b2)"/>
<rect x="691.67" y="364.83" width="28.33" height="4.33" rx="2.17" fill="#000" opacity="0.85" filter="url(#b2)"/>
<rect x="734" y="363.33" width="35.33" height="5.33" rx="2.67" fill="#2a2a2a" opacity="0.8" filter="url(#b2)"/>
<rect x="736" y="364.67" width="10.67" height="4" rx="2" fill="#111" opacity="0.6" filter="url(#b2)"/>
<rect x="753.33" y="363.67" width="15" height="4" rx="2" fill="#111" opacity="0.6" filter="url(#b2)"/>
<rect x="784" y="362.67" width="42" height="6" rx="3" fill="#1a1a1a" opacity="0.85" filter="url(#b2)"/>
<rect x="788.33" y="363.83" width="35" height="3.67" rx="1.83" fill="#000" opacity="0.5" filter="url(#b2)"/>
<rect x="839.33" y="363.17" width="36.67" height="5" rx="2.5" fill="#333" opacity="0.65" filter="url(#b2)"/>
<rect x="858.33" y="363.5" width="16.67" height="3.67" rx="1.83" fill="#111" opacity="0.45" filter="url(#b2)"/>
<rect x="890" y="364.33" width="20" height="3.33" rx="1.67" fill="#777" opacity="0.3" filter="url(#b2)"/>
<ellipse cx="852.5" cy="347" rx="3" ry="2.2" fill="#222" opacity="0.8" filter="url(#b1)"/><ellipse cx="868" cy="345.5" rx="3" ry="2" fill="#222" opacity="0.75" filter="url(#b1)"/>
<ellipse cx="858" cy="386" rx="8" ry="4" fill="#555" opacity="0.6" filter="url(#b4)"/>
<ellipse cx="753" cy="384" rx="14" ry="4" fill="#666" opacity="0.5" filter="url(#b4)"/>
<ellipse cx="925.5" cy="362" rx="4" ry="20" fill="#444" opacity="0.7" filter="url(#b4)" transform="rotate(8 925 365)"/>
<ellipse cx="923.3" cy="365.8" rx="4.5" ry="2.6" fill="#1a1a1a" opacity="0.85" filter="url(#b1)"/>
<rect x="619" y="341.5" width="321.29999999999995" height="53.3" fill="#000" filter="url(#noise)" opacity="0.45"/>
</g>
<rect x="619" y="341.5" width="321.29999999999995" height="53.3" fill="none" stroke="#111" stroke-width="0.9"/>
<g clip-path="url(#cp2)">
<rect x="619" y="415.3" width="321.29999999999995" height="52.7" fill="#ECECEC"/>
<rect x="623" y="410" width="45" height="62" fill="#c8c8c8" opacity="0.65" filter="url(#b3)"/>
<rect x="680" y="410" width="42" height="62" fill="#c0c0c0" opacity="0.7" filter="url(#b3)"/>
<rect x="733" y="410" width="42" height="62" fill="#cccccc" opacity="0.6" filter="url(#b3)"/>
<rect x="785" y="410" width="42" height="62" fill="#cccccc" opacity="0.6" filter="url(#b3)"/>
<rect x="838" y="410" width="42" height="62" fill="#cecece" opacity="0.6" filter="url(#b3)"/>
<rect x="890" y="410" width="43" height="62" fill="#cecece" opacity="0.6" filter="url(#b3)"/>
<rect x="626" y="425" width="39" height="4.67" rx="2.33" fill="#999" opacity="0.15" filter="url(#b2)"/>
<rect x="681.67" y="425" width="38.33" height="4.67" rx="2.33" fill="#999" opacity="0.15" filter="url(#b2)"/>
<rect x="735" y="425" width="36.67" height="4.67" rx="2.33" fill="#999" opacity="0.15" filter="url(#b2)"/>
<rect x="786.67" y="425" width="36.67" height="4.67" rx="2.33" fill="#999" opacity="0.15" filter="url(#b2)"/>
<rect x="840" y="425" width="36.67" height="4.67" rx="2.33" fill="#999" opacity="0.15" filter="url(#b2)"/>
<rect x="891.67" y="425" width="38.33" height="4.67" rx="2.33" fill="#999" opacity="0.15" filter="url(#b2)"/>
<rect x="624" y="442.83" width="42" height="5" rx="2.5" fill="#444" opacity="0.6" filter="url(#b2)"/>
<rect x="626.67" y="444.17" width="15" height="3.67" rx="1.83" fill="#333" opacity="0.35" filter="url(#b2)"/>
<rect x="680.67" y="443.17" width="40" height="5" rx="2.5" fill="#2a2a2a" opacity="0.75" filter="url(#b2)"/>
<rect x="681.33" y="444.5" width="16" height="3.67" rx="1.83" fill="#000" opacity="1" filter="url(#b2)"/>
<rect x="734" y="441.33" width="38.67" height="4.67" rx="2.33" fill="#555" opacity="0.6" filter="url(#b2)"/>
<rect x="786" y="440.67" width="38" height="4.67" rx="2.33" fill="#555" opacity="0.6" filter="url(#b2)"/>
<rect x="839.33" y="439" width="38" height="4.67" rx="2.33" fill="#666" opacity="0.6" filter="url(#b2)"/>
<rect x="890.67" y="437.33" width="40" height="4.67" rx="2.33" fill="#666" opacity="0.6" filter="url(#b2)"/>
<rect x="619" y="415.3" width="321.29999999999995" height="52.7" fill="#000" filter="url(#noise)" opacity="0.05"/>
</g>
<rect x="620.1" y="416.4" width="319.09999999999997" height="50.5" fill="none" stroke="#fff" stroke-width="0.9" opacity="0.6"/>
<rect x="619" y="415.3" width="321.29999999999995" height="52.7" fill="none" stroke="#222" stroke-width="1"/>
<g clip-path="url(#cp3)">
<rect x="619" y="488.5" width="321.29999999999995" height="52.7" fill="#ECECEC"/>
<rect x="609" y="504" width="341.29999999999995" height="24" fill="#d2d2d2" opacity="0.6" filter="url(#b3)"/>
<rect x="621.5" y="507.5" width="41.0" height="14" rx="6" fill="#666" opacity="0.45" filter="url(#b4)"/>
<rect x="622.5" y="510.4" width="39.0" height="7.8" rx="3.9" fill="#000" filter="url(#b1)"/>
<rect x="625.5" y="511.6" width="33.0" height="5.6" rx="2.8" fill="#000" opacity="0.8" filter="url(#b1)"/>
<rect x="676" y="507.5" width="41.5" height="14" rx="6" fill="#666" opacity="0.45" filter="url(#b4)"/>
<rect x="677" y="510.4" width="39.5" height="7.8" rx="3.9" fill="#000" filter="url(#b1)"/>
<rect x="680" y="511.6" width="33.5" height="5.6" rx="2.8" fill="#000" opacity="0.8" filter="url(#b1)"/>
<rect x="729.5" y="507.5" width="41.5" height="14" rx="6" fill="#666" opacity="0.45" filter="url(#b4)"/>
<rect x="730.5" y="510.4" width="39.5" height="7.8" rx="3.9" fill="#000" filter="url(#b1)"/>
<rect x="733.5" y="511.6" width="33.5" height="5.6" rx="2.8" fill="#000" opacity="0.8" filter="url(#b1)"/>
<rect x="783" y="507.5" width="41" height="14" rx="6" fill="#666" opacity="0.45" filter="url(#b4)"/>
<rect x="784" y="510.4" width="39" height="7.8" rx="3.9" fill="#000" filter="url(#b1)"/>
<rect x="787" y="511.6" width="33" height="5.6" rx="2.8" fill="#000" opacity="0.8" filter="url(#b1)"/>
<rect x="836" y="507.5" width="41.5" height="14" rx="6" fill="#666" opacity="0.45" filter="url(#b4)"/>
<rect x="837" y="510.4" width="39.5" height="7.8" rx="3.9" fill="#000" filter="url(#b1)"/>
<rect x="840" y="511.6" width="33.5" height="5.6" rx="2.8" fill="#000" opacity="0.8" filter="url(#b1)"/>
<rect x="887.5" y="507.5" width="42.5" height="14" rx="6" fill="#666" opacity="0.45" filter="url(#b4)"/>
<rect x="888.5" y="510.4" width="40.5" height="7.8" rx="3.9" fill="#000" filter="url(#b1)"/>
<rect x="891.5" y="511.6" width="34.5" height="5.6" rx="2.8" fill="#000" opacity="0.8" filter="url(#b1)"/>
<rect x="619" y="488.5" width="321.29999999999995" height="52.7" fill="#000" filter="url(#noise)" opacity="0.05"/>
</g>
<rect x="619" y="488.5" width="321.29999999999995" height="52.7" fill="none" stroke="#111" stroke-width="1"/>
<g font-size="15.6" fill="#111">
<text x="606.5" y="374" text-anchor="end">TLR4</text>
<text x="609.5" y="448" text-anchor="end">AGER</text>
<text x="607" y="520.7" text-anchor="end">β-actin</text>
<text x="949.5" y="372.7">94kDa</text>
<text x="949.5" y="451.3">55kDa</text>
<text x="949.5" y="523.3">42kDa</text>
</g>
<text transform="translate(621.5 586.8) rotate(-28)" font-size="16.2" fill="#111">Control</text>
<text transform="translate(690.5 574.3) rotate(-28)" font-size="16.2" fill="#111">M</text>
<text transform="translate(735 588.5) rotate(-28)" font-size="16.2" fill="#111">L-QFY</text>
<text transform="translate(785.5 585) rotate(-28)" font-size="16.2" fill="#111">M-QFY</text>
<text transform="translate(837 585) rotate(-28)" font-size="16.2" fill="#111">H-QFY</text>
<text transform="translate(901.5 583.3) rotate(-28)" font-size="16.2" fill="#111">Mino</text>
</svg>
</body></html>
